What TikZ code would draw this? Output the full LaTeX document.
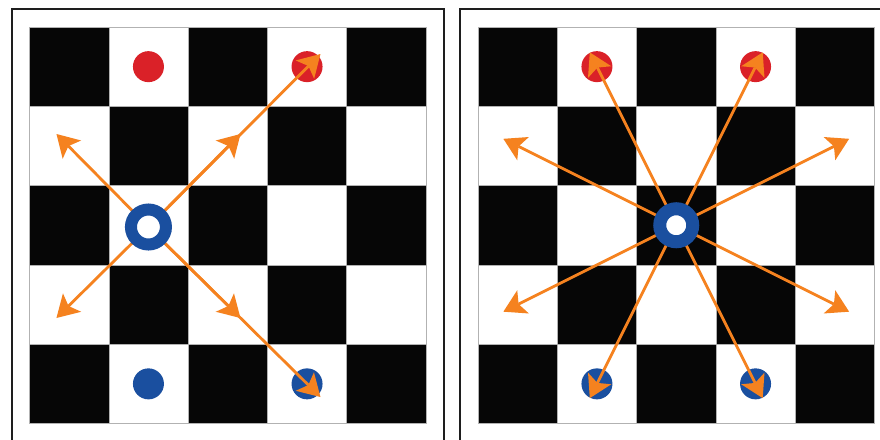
\documentclass[tikz,border=0pt]{standalone}
\usetikzlibrary{arrows.meta}
\definecolor{boardblack}{HTML}{060606}
\definecolor{pcred}{HTML}{DA2128}
\definecolor{pcblue}{HTML}{1A4F9F}
\definecolor{arrorange}{HTML}{F5821F}
\definecolor{framegray}{HTML}{1E1E1E}
\begin{document}
\begin{tikzpicture}[x=1pt,y=-1pt,
  frame/.style={draw=framegray,line width=2pt},
  sqblack/.style={fill=boardblack,draw=gray!60,line width=0.6pt},
  sqwhite/.style={fill=white,draw=gray!60,line width=0.6pt},
  reddot/.style={circle,fill=pcred,minimum size=31pt,inner sep=0pt},
  bluedot/.style={circle,fill=pcblue,minimum size=31pt,inner sep=0pt},
  ring/.style={circle,draw=pcblue,fill=white,line width=12pt,minimum size=35pt,inner sep=0pt},
  move/.style={draw=arrorange,line width=2.8pt,-{Stealth[length=22pt,width=26pt,inset=5pt,line width=0pt]}},
]
\useasboundingbox (0,0) rectangle (880,439);
\clip (0,0) rectangle (880,439);
% frames
\draw[frame] (12,9) rectangle (443.5,470);
\draw[frame] (460,9) rectangle (910,470);
% boards
\foreach \ox in {29.5,478}{
  \foreach \r in {0,...,4}{
    \foreach \c in {0,...,4}{
      \pgfmathtruncatemacro\parity{mod(\r+\c,2)}
      \ifnum\parity=0
        \path[sqblack] (\ox+\c*79.3,27+\r*79.3) rectangle ++(79.3,79.3);
      \else
        \path[sqwhite] (\ox+\c*79.3,27+\r*79.3) rectangle ++(79.3,79.3);
      \fi
    }
  }
}
% ---------- left board ----------
\coordinate (cL) at (148.45,227);
\node[reddot]  (lr1) at (148.45,66.65) {};
\node[reddot]  (lr2) at (307.05,66.65) {};
\node[bluedot] (lb1) at (148.45,383.85) {};
\node[bluedot] (lb2) at (307.05,383.85) {};
\coordinate (lUL)  at ([shift={(-92,-93)}]cL);
\coordinate (lDL)  at ([shift={(-92,91)}]cL);
\coordinate (lURm) at ([shift={(92,-93)}]cL);
\coordinate (lURe) at ([shift={(172,-173)}]cL);
\coordinate (lDRm) at ([shift={(92,91)}]cL);
\coordinate (lDRe) at ([shift={(172,170)}]cL);
\draw[move] (cL) -- (lUL);
\draw[move] (cL) -- (lDL);
\draw[move] (cL) -- (lURm);
\draw[move] (cL) -- (lURe);
\draw[move] (cL) -- (lDRm);
\draw[move] (cL) -- (lDRe);
\node[ring] (ringL) at (cL) {};
% ---------- right board ----------
\coordinate (cR) at (676.25,225.25);
\node[reddot]  (rr1) at (596.95,66.65) {};
\node[reddot]  (rr2) at (755.55,66.65) {};
\node[bluedot] (rb1) at (596.95,383.85) {};
\node[bluedot] (rb2) at (755.55,383.85) {};
\foreach \dx/\dy [count=\i] in {-2/-1,2/-1,-2/1,2/1,-1/-2,1/-2,-1/2,1/2}{
  \coordinate (rk\i) at ([shift={(\dx*86.44,\dy*86.44)}]cR);
  \draw[move] (cR) -- (rk\i);
}
\node[ring,line width=13pt,minimum size=33pt] (ringR) at (cR) {};
\end{tikzpicture}
\end{document}
